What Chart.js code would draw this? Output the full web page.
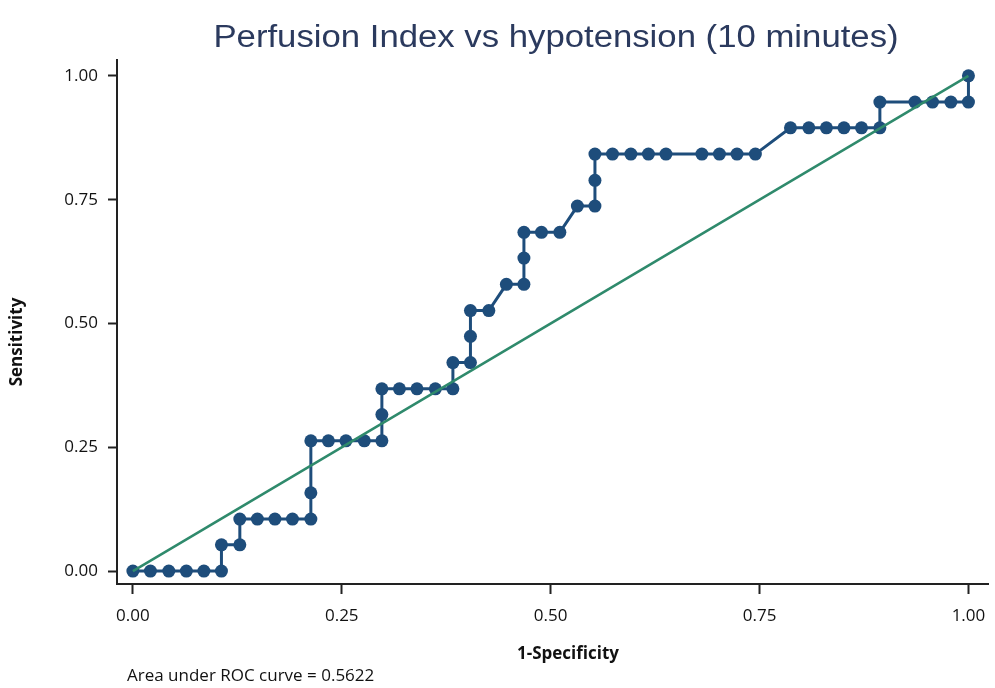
<!DOCTYPE html>
<html>
<head>
<meta charset="utf-8">
<script src="https://cdn.jsdelivr.net/npm/chart.js@4.4.1/dist/chart.umd.min.js"></script>
<style>
  html, body { margin: 0; padding: 0; background: #fff; }
  #wrap { width: 995px; height: 688px; }
</style>
</head>
<body>
<div id="wrap"><canvas id="roc"></canvas></div>
<script>
// ROC points (1-specificity, sensitivity)
const fpr = [0, 0.021, 0.043, 0.064, 0.085, 0.106, 0.106, 0.128, 0.128, 0.149, 0.170, 0.191, 0.213, 0.213, 0.213,
    0.234, 0.255, 0.277, 0.298, 0.298, 0.298, 0.319, 0.340, 0.362, 0.383, 0.383, 0.404, 0.404, 0.404, 0.426,
    0.447, 0.468, 0.468, 0.468, 0.489, 0.511, 0.532, 0.553, 0.553, 0.553, 0.574, 0.596, 0.617, 0.638, 0.681,
    0.702, 0.723, 0.745, 0.787, 0.809, 0.830, 0.851, 0.872, 0.894, 0.894, 0.936, 0.957, 0.979, 1, 1];
const sens = [0, 0, 0, 0, 0, 0, 0.053, 0.053, 0.105, 0.105, 0.105, 0.105, 0.105, 0.158, 0.263,
    0.263, 0.263, 0.263, 0.263, 0.316, 0.368, 0.368, 0.368, 0.368, 0.368, 0.421, 0.421, 0.474, 0.526, 0.526,
    0.579, 0.579, 0.632, 0.684, 0.684, 0.684, 0.737, 0.737, 0.789, 0.842, 0.842, 0.842, 0.842, 0.842, 0.842,
    0.842, 0.842, 0.842, 0.895, 0.895, 0.895, 0.895, 0.895, 0.895, 0.947, 0.947, 0.947, 0.947, 0.947, 1];
const refLine = [0, 1];
const tickVals = [0, 0.25, 0.5, 0.75, 1];
const titleText = "Perfusion Index vs hypotension (10 minutes)";
const xTitle = "1-Specificity";
const yTitle = "Sensitivity";
const aucText = "Area under ROC curve = 0.5622";

const rocPts = fpr.map((v, i) => ({ x: v, y: sens[i] }));
const refPts = refLine.map(v => ({ x: v, y: v }));

const sans = "'Open Sans', 'Noto Sans', sans-serif";

// title, axis titles and the AUC note, placed like the Stata output
const labels = {
    id: "labels",
    afterDraw(chart) {
        const ctx = chart.ctx;
        ctx.save();
        ctx.textBaseline = "middle";

        // title (slightly wide lettering as in the original)
        ctx.font = "31px 'Liberation Sans', Arial, sans-serif";
        ctx.fillStyle = "#2b3a5e";
        ctx.textAlign = "center";
        ctx.save();
        ctx.translate(556, 38);
        ctx.scale(1.12, 1);
        ctx.fillText(titleText, 0, 0);
        ctx.restore();

        ctx.fillStyle = "#111";
        ctx.font = "bold 17px " + sans;
        ctx.fillText(xTitle, 568, 654);

        ctx.save();
        ctx.translate(17, 342);
        ctx.rotate(-Math.PI / 2);
        ctx.fillText(yTitle, 0, 0);
        ctx.restore();

        ctx.textAlign = "left";
        ctx.font = "17px " + sans;
        ctx.fillText(aucText, 127, 676);
        ctx.restore();
    }
};

new Chart(document.getElementById("roc"), {
    type: "scatter",
    data: {
        datasets: [
            {
                data: refPts,
                showLine: true,
                borderColor: "#2f8a6c",
                borderWidth: 2.5,
                pointRadius: 0,
                order: 0,
            },
            {
                data: rocPts,
                showLine: true,
                borderColor: "#1e4d7b",
                backgroundColor: "#1e4d7b",
                borderWidth: 3,
                pointRadius: 6.5,
                pointBorderWidth: 0,
                order: 1,
            },
        ],
    },
    options: {
        responsive: true,
        maintainAspectRatio: false,
        animation: false,
        layout: { padding: { top: 60, right: 5, left: 0, bottom: 0 } },
        plugins: {
            legend: { display: false },
            tooltip: { enabled: false },
        },
        scales: {
            x: {
                type: "linear",
                min: -0.019,
                max: 1.024,
                afterBuildTicks: (s) => { s.ticks = tickVals.map(v => ({ value: v })); },
                afterFit: (s) => { s.height = 104; s.paddingLeft = 0; s.paddingRight = 0; },
                ticks: {
                    callback: (v) => v.toFixed(2),
                    color: "#111",
                    font: { family: sans, size: 17 },
                    padding: 12,
                    maxRotation: 0,
                },
                grid: { display: true, drawOnChartArea: false, drawTicks: true, tickLength: 10, color: "#222", tickWidth: 2 },
                border: { display: true, color: "#222", width: 2 },
            },
            y: {
                type: "linear",
                min: -0.026,
                max: 1.032,
                afterBuildTicks: (s) => { s.ticks = tickVals.map(v => ({ value: v })); },
                afterFit: (s) => { s.width = 117; },
                ticks: {
                    callback: (v) => v.toFixed(2),
                    color: "#111",
                    font: { family: sans, size: 17 },
                    padding: 10,
                },
                grid: { display: true, drawOnChartArea: false, drawTicks: true, tickLength: 9, color: "#222", tickWidth: 2 },
                border: { display: true, color: "#222", width: 2 },
            },
        },
    },
    plugins: [labels],
});
</script>
</body>
</html>
